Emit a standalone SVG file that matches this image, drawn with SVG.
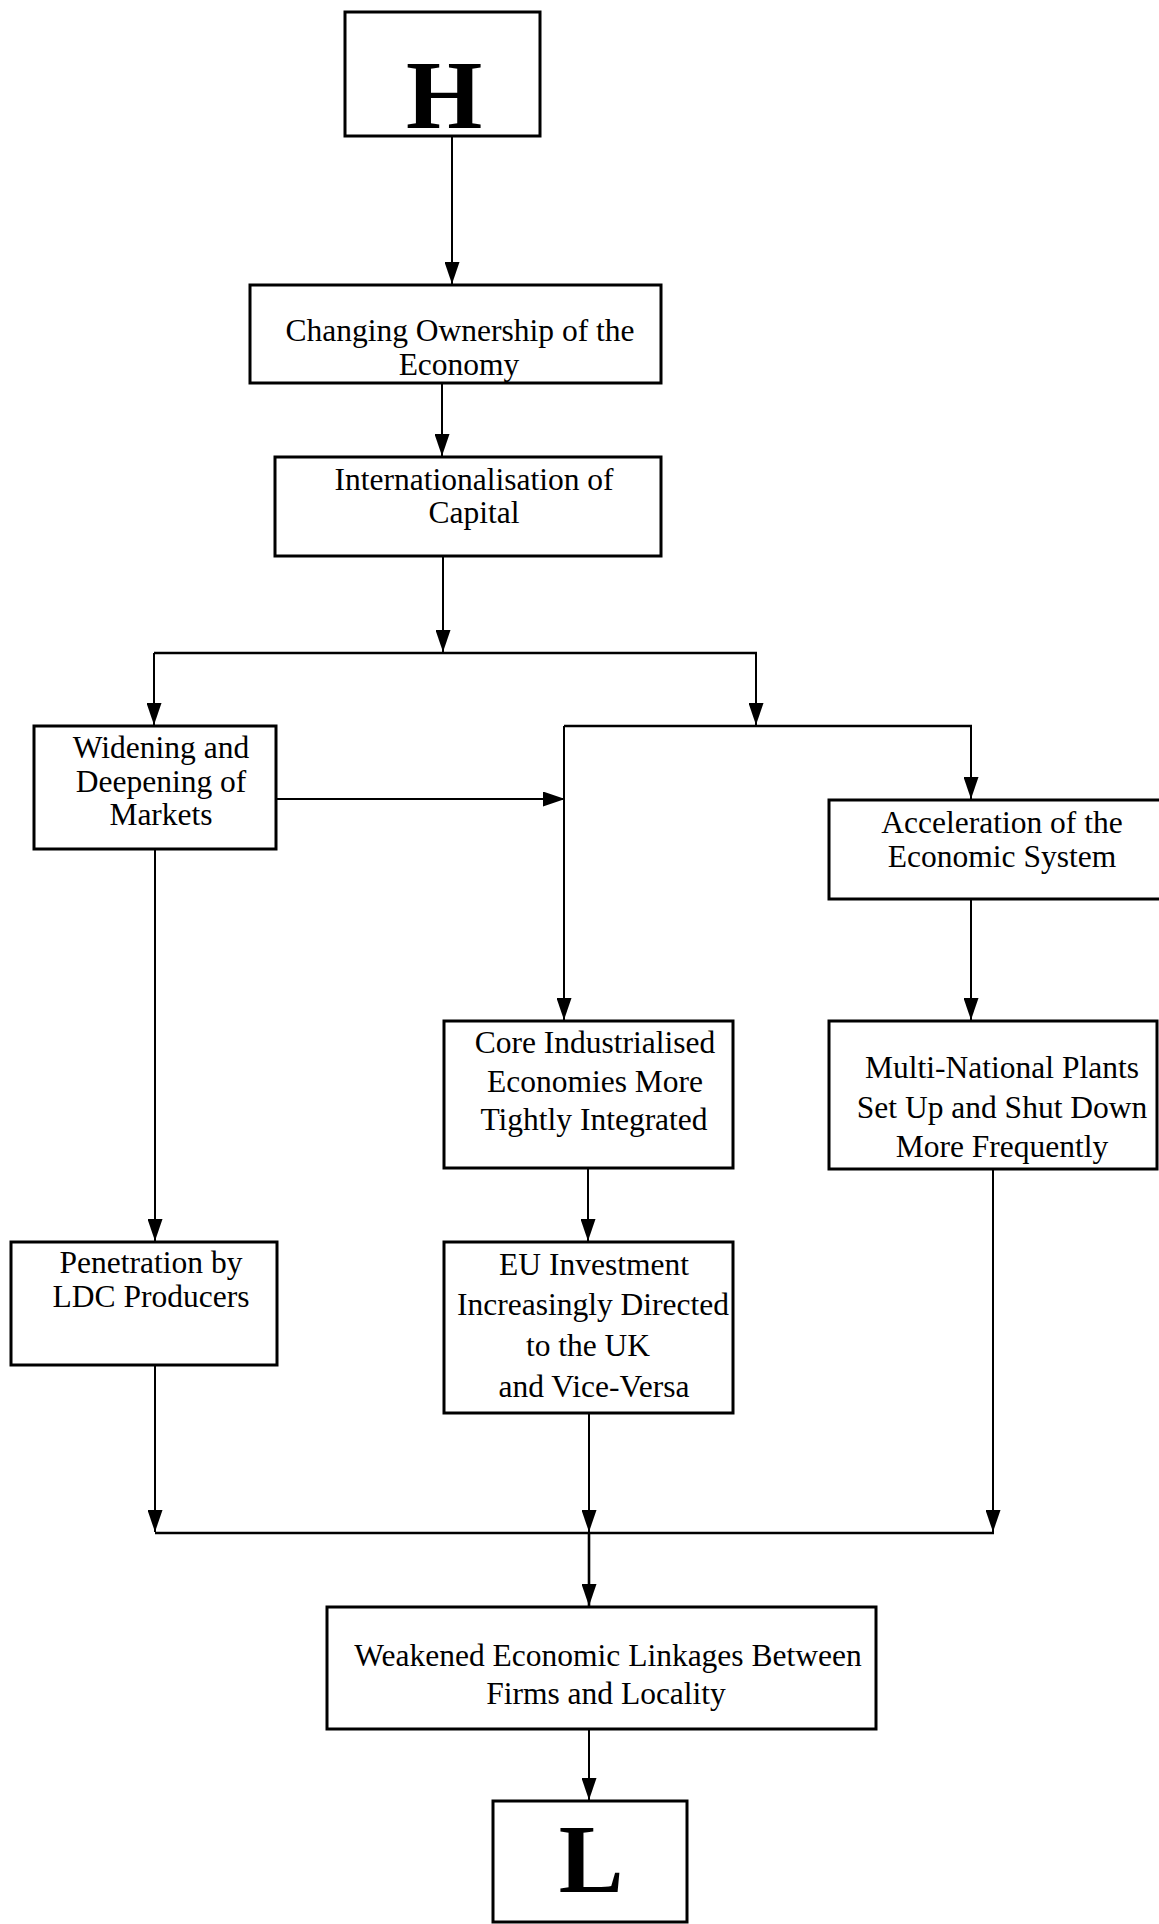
<svg xmlns="http://www.w3.org/2000/svg" width="1159" height="1924" viewBox="0 0 1159 1924">
<style>
  .box{fill:#fff;stroke:#000;stroke-width:3}
  .t{font-family:"Liberation Serif","Times New Roman",serif;font-size:31.5px;fill:#000;text-anchor:middle}
  .big{font-family:"Liberation Serif","Times New Roman",serif;font-weight:bold;fill:#000;text-anchor:middle}
  .c{fill:none;stroke:#000;stroke-width:2}
  .h{fill:none;stroke:#000;stroke-width:2.6}
</style>
<defs>
  <marker id="ah" markerUnits="userSpaceOnUse" markerWidth="22" markerHeight="15" refX="22" refY="7.5" orient="auto">
    <path d="M0,0 L22,7.5 L0,15 z" fill="#000"/>
  </marker>
</defs>
<rect width="1159" height="1924" fill="#fff"/>

<g id="connectors">
  <line class="c" x1="452" y1="137" x2="452" y2="284" marker-end="url(#ah)"/>
  <line class="c" x1="442" y1="383" x2="442" y2="456" marker-end="url(#ah)"/>
  <line class="c" x1="443" y1="556" x2="443" y2="652" marker-end="url(#ah)"/>
  <line class="h" x1="154" y1="653" x2="757" y2="653"/>
  <line class="c" x1="154" y1="653" x2="154" y2="725" marker-end="url(#ah)"/>
  <line class="c" x1="756" y1="653" x2="756" y2="725" marker-end="url(#ah)"/>
  <line class="h" x1="564" y1="726" x2="972" y2="726"/>
  <line class="c" x1="971" y1="726" x2="971" y2="799" marker-end="url(#ah)"/>
  <line class="c" x1="564" y1="726" x2="564" y2="1020" marker-end="url(#ah)"/>
  <line class="c" x1="276" y1="799" x2="565" y2="799" marker-end="url(#ah)"/>
  <line class="c" x1="155" y1="849" x2="155" y2="1241" marker-end="url(#ah)"/>
  <line class="c" x1="971" y1="899" x2="971" y2="1020" marker-end="url(#ah)"/>
  <line class="c" x1="588" y1="1168" x2="588" y2="1241" marker-end="url(#ah)"/>
  <line class="c" x1="155" y1="1365" x2="155" y2="1532" marker-end="url(#ah)"/>
  <line class="c" x1="589" y1="1413" x2="589" y2="1532" marker-end="url(#ah)"/>
  <line class="c" x1="993" y1="1169" x2="993" y2="1532" marker-end="url(#ah)"/>
  <line class="h" x1="155" y1="1533" x2="994" y2="1533"/>
  <line class="h" x1="589" y1="1533" x2="589" y2="1606" marker-end="url(#ah)"/>
  <line class="c" x1="589" y1="1729" x2="589" y2="1800" marker-end="url(#ah)"/>
</g>

<g id="node-H">
  <rect class="box" x="345" y="12" width="195" height="124"/>
  <text class="big" x="444" y="128" font-size="98">H</text>
</g>

<g id="node-ownership">
  <rect class="box" x="250" y="285" width="411" height="98"/>
  <text class="t" x="460" y="341" font-size="30.5">Changing Ownership of the</text>
  <text class="t" x="459" y="375" font-size="30.5">Economy</text>
</g>

<g id="node-internationalisation">
  <rect class="box" x="275" y="457" width="386" height="99"/>
  <text class="t" x="474" y="490" font-size="31">Internationalisation of</text>
  <text class="t" x="474" y="523" font-size="31">Capital</text>
</g>

<g id="node-widening">
  <rect class="box" x="34" y="726" width="242" height="123"/>
  <text class="t" x="161" y="758">Widening and</text>
  <text class="t" x="161" y="792">Deepening of</text>
  <text class="t" x="161" y="825">Markets</text>
</g>

<g id="node-acceleration">
  <rect class="box" x="829" y="800" width="333" height="99"/>
  <text class="t" x="1002" y="833">Acceleration of the</text>
  <text class="t" x="1002" y="867">Economic System</text>
</g>

<g id="node-core">
  <rect class="box" x="444" y="1021" width="289" height="147"/>
  <text class="t" x="595" y="1053" font-size="32">Core Industrialised</text>
  <text class="t" x="595" y="1092" font-size="32">Economies More</text>
  <text class="t" x="594" y="1130" font-size="32">Tightly Integrated</text>
</g>

<g id="node-multinational">
  <rect class="box" x="829" y="1021" width="328" height="148"/>
  <text class="t" x="1002" y="1078" font-size="32.5">Multi-National Plants</text>
  <text class="t" x="1002" y="1118" font-size="32.5">Set Up and Shut Down</text>
  <text class="t" x="1002" y="1157" font-size="32.5">More Frequently</text>
</g>

<g id="node-penetration">
  <rect class="box" x="11" y="1242" width="266" height="123"/>
  <text class="t" x="151" y="1273">Penetration by</text>
  <text class="t" x="151" y="1307">LDC Producers</text>
</g>

<g id="node-eu">
  <rect class="box" x="444" y="1242" width="289" height="171"/>
  <text class="t" x="594" y="1275" font-size="32">EU Investment</text>
  <text class="t" x="593" y="1315" font-size="32">Increasingly Directed</text>
  <text class="t" x="588" y="1356" font-size="32">to the UK</text>
  <text class="t" x="594" y="1397" font-size="32">and Vice-Versa</text>
</g>

<g id="node-weakened">
  <rect class="box" x="327" y="1607" width="549" height="122"/>
  <text class="t" x="608" y="1666" font-size="32">Weakened Economic Linkages Between</text>
  <text class="t" x="606" y="1704" font-size="32">Firms and Locality</text>
</g>

<g id="node-L">
  <rect class="box" x="493" y="1801" width="194" height="121"/>
  <text class="big" x="591" y="1892" font-size="97">L</text>
</g>
</svg>
